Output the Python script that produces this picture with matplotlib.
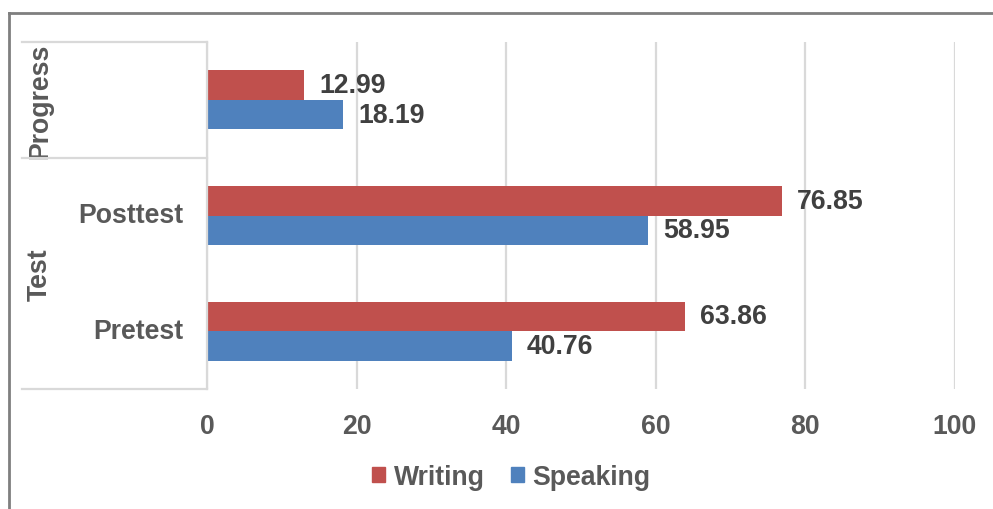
import matplotlib.pyplot as plt
import matplotlib.transforms as mtransforms
from matplotlib.lines import Line2D
from matplotlib.patches import Patch

plt.rcParams['font.family'] = ['Liberation Sans', 'DejaVu Sans']

categories = ["Pretest", "Posttest", ""]
groups = ["Test", "Test", "Progress"]
writing = [63.86, 76.85, 12.99]
speaking = [40.76, 58.95, 18.19]
xticks = [0, 20, 40, 60, 80, 100]

red = "#C0504D"
blue = "#4F81BD"
tick_col = "#595959"
lab_col = "#404040"
grid_col = "#D9D9D9"
fs = 19.2

fig = plt.figure(figsize=(9.93, 5.10), dpi=100)
ax = fig.add_axes([207 / 993, 1 - 390 / 510, 748 / 993, 347 / 510])

pos = list(range(len(categories)))
h = 0.255
ax.barh([p + h / 2 for p in pos], writing, height=h, color=red, label="Writing", zorder=3)
ax.barh([p - h / 2 for p in pos], speaking, height=h, color=blue, label="Speaking", zorder=3)

# value labels
for p, w, s in zip(pos, writing, speaking):
    ax.annotate(f"{w:.2f}", (w, p + h / 2), xytext=(15, 0), textcoords="offset pixels",
                va="center", ha="left", fontsize=fs, fontweight="bold", color=lab_col)
    ax.annotate(f"{s:.2f}", (s, p - h / 2), xytext=(15, 0), textcoords="offset pixels",
                va="center", ha="left", fontsize=fs, fontweight="bold", color=lab_col)

ax.set_xlim(0, 100)
ax.set_ylim(-0.5, len(categories) - 0.5)
ax.set_xticks(xticks)
ax.set_xticklabels([str(t) for t in xticks], fontsize=fs, fontweight="bold", color=tick_col)
ax.tick_params(axis="x", length=0, pad=17)
ax.set_yticks([])
ax.grid(axis="x", color=grid_col, linewidth=1.6, zorder=0)
for sp in ["top", "right", "bottom"]:
    ax.spines[sp].set_visible(False)
ax.spines["left"].set_color(grid_col)
ax.spines["left"].set_linewidth(1.6)
ax.spines["left"].set_zorder(4)

# multi-level category labels
trans = mtransforms.blended_transform_factory(ax.transAxes, ax.transData)
for p, c in zip(pos, categories):
    if c:
        ax.text(-24 / 748, p, c, transform=trans, ha="right", va="center",
                fontsize=fs, fontweight="bold", color=tick_col)
ax.text(-167 / 748, 2, "Progress", transform=trans, ha="center", va="center", rotation=90,
        fontsize=fs, fontweight="bold", color=tick_col)
ax.text(-167 / 748, 0.5, "Test", transform=trans, ha="center", va="center", rotation=90,
        fontsize=fs, fontweight="bold", color=tick_col)
for yv in [2.5, 1.5, -0.5]:
    ax.plot([-185 / 748, 0], [yv, yv], transform=trans, color=grid_col, linewidth=1.6,
            clip_on=False, zorder=4)

# outer frame (left and top)
fig.add_artist(Line2D([9 / 993, 9 / 993], [0, 1 - 14 / 510], color="#7F7F7F", linewidth=2))
fig.add_artist(Line2D([9 / 993, 1], [1 - 14 / 510, 1 - 14 / 510], color="#7F7F7F", linewidth=2))

handles = [Patch(color=red, label="Writing"), Patch(color=blue, label="Speaking")]
leg = fig.legend(handles=handles, loc="center", bbox_to_anchor=(0.515, 1 - 478 / 510), ncol=2,
                 frameon=False, handlelength=0.5, handleheight=0.5, handletextpad=0.3,
                 columnspacing=1.0, prop={"size": fs, "weight": "bold"})
for t in leg.get_texts():
    t.set_color(tick_col)

fig.savefig("out.png", dpi=100)
